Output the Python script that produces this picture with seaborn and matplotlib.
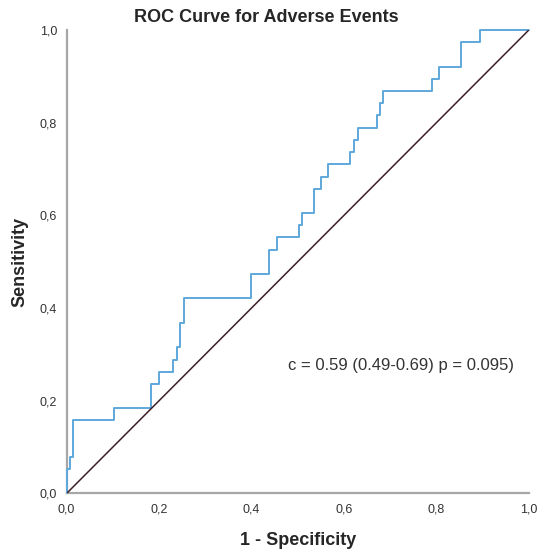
import matplotlib
matplotlib.use("Agg")
import matplotlib.pyplot as plt
import seaborn as sns
import pandas as pd

# ROC curve vertices (1 - specificity, sensitivity), drawn as steps
fpr = [0.0, 0.007, 0.014, 0.103, 0.182, 0.200, 0.231, 0.239, 0.246, 0.253,
       0.398, 0.439, 0.456, 0.502, 0.510, 0.535, 0.551, 0.565, 0.613, 0.622,
       0.630, 0.672, 0.678, 0.684, 0.790, 0.806, 0.853, 0.895, 1.0]
tpr = [0.0, 0.053, 0.079, 0.158, 0.184, 0.237, 0.263, 0.289, 0.316, 0.368,
       0.421, 0.474, 0.526, 0.553, 0.579, 0.605, 0.658, 0.684, 0.711, 0.737,
       0.763, 0.789, 0.816, 0.842, 0.868, 0.895, 0.921, 0.974, 1.0]
ref_x = [0.0, 1.0]
ref_y = [0.0, 1.0]
ticks = [0.0, 0.2, 0.4, 0.6, 0.8, 1.0]
tick_labels = ["0,0", "0,2", "0,4", "0,6", "0,8", "1,0"]
annotation = "c = 0.59 (0.49-0.69) p = 0.095)"

sns.set_style("white")
plt.rcParams["font.family"] = ["Liberation Sans", "DejaVu Sans"]

fig = plt.figure(figsize=(5.39, 5.50), dpi=100)
ax = fig.add_axes([0.1237, 0.103, 0.857, 0.842])

df = pd.DataFrame({"fpr": fpr, "tpr": tpr})
sns.lineplot(data=df, x="fpr", y="tpr", ax=ax, sort=False, estimator=None,
             drawstyle="steps-pre", color="#5fa8dc", linewidth=1.4,
             zorder=3, clip_on=False)
sns.lineplot(x=ref_x, y=ref_y, ax=ax, sort=False, estimator=None,
             color="#3d1f28", linewidth=1.1, zorder=3)

ax.set_xlim(0, 1)
ax.set_ylim(0, 1)
ax.set_xticks(ticks)
ax.set_yticks(ticks)
ax.set_xticklabels(tick_labels, fontsize=9, color="#333333")
ax.set_yticklabels(tick_labels, fontsize=9, color="#333333")
ax.tick_params(axis="x", length=0, pad=7)
ax.tick_params(axis="y", length=0, pad=7)

for s in ["top", "right"]:
    ax.spines[s].set_visible(False)
for s in ["left", "bottom"]:
    ax.spines[s].set_color("#a6a6a6")
    ax.spines[s].set_linewidth(1.6)

ax.set_xlabel("1 - Specificity", fontsize=13, fontweight="bold")
ax.set_ylabel("Sensitivity", fontsize=13, fontweight="bold")
ax.xaxis.set_label_coords(0.5, -0.084)
ax.yaxis.set_label_coords(-0.083, 0.5)
fig.text(0.495, 0.969, "ROC Curve for Adverse Events", fontsize=13,
         fontweight="bold", ha="center", va="center")

ax.text(0.479, 0.277, annotation, fontsize=12, color="#333333",
        ha="left", va="center")

fig.savefig("out.png", dpi=100, facecolor="white")
